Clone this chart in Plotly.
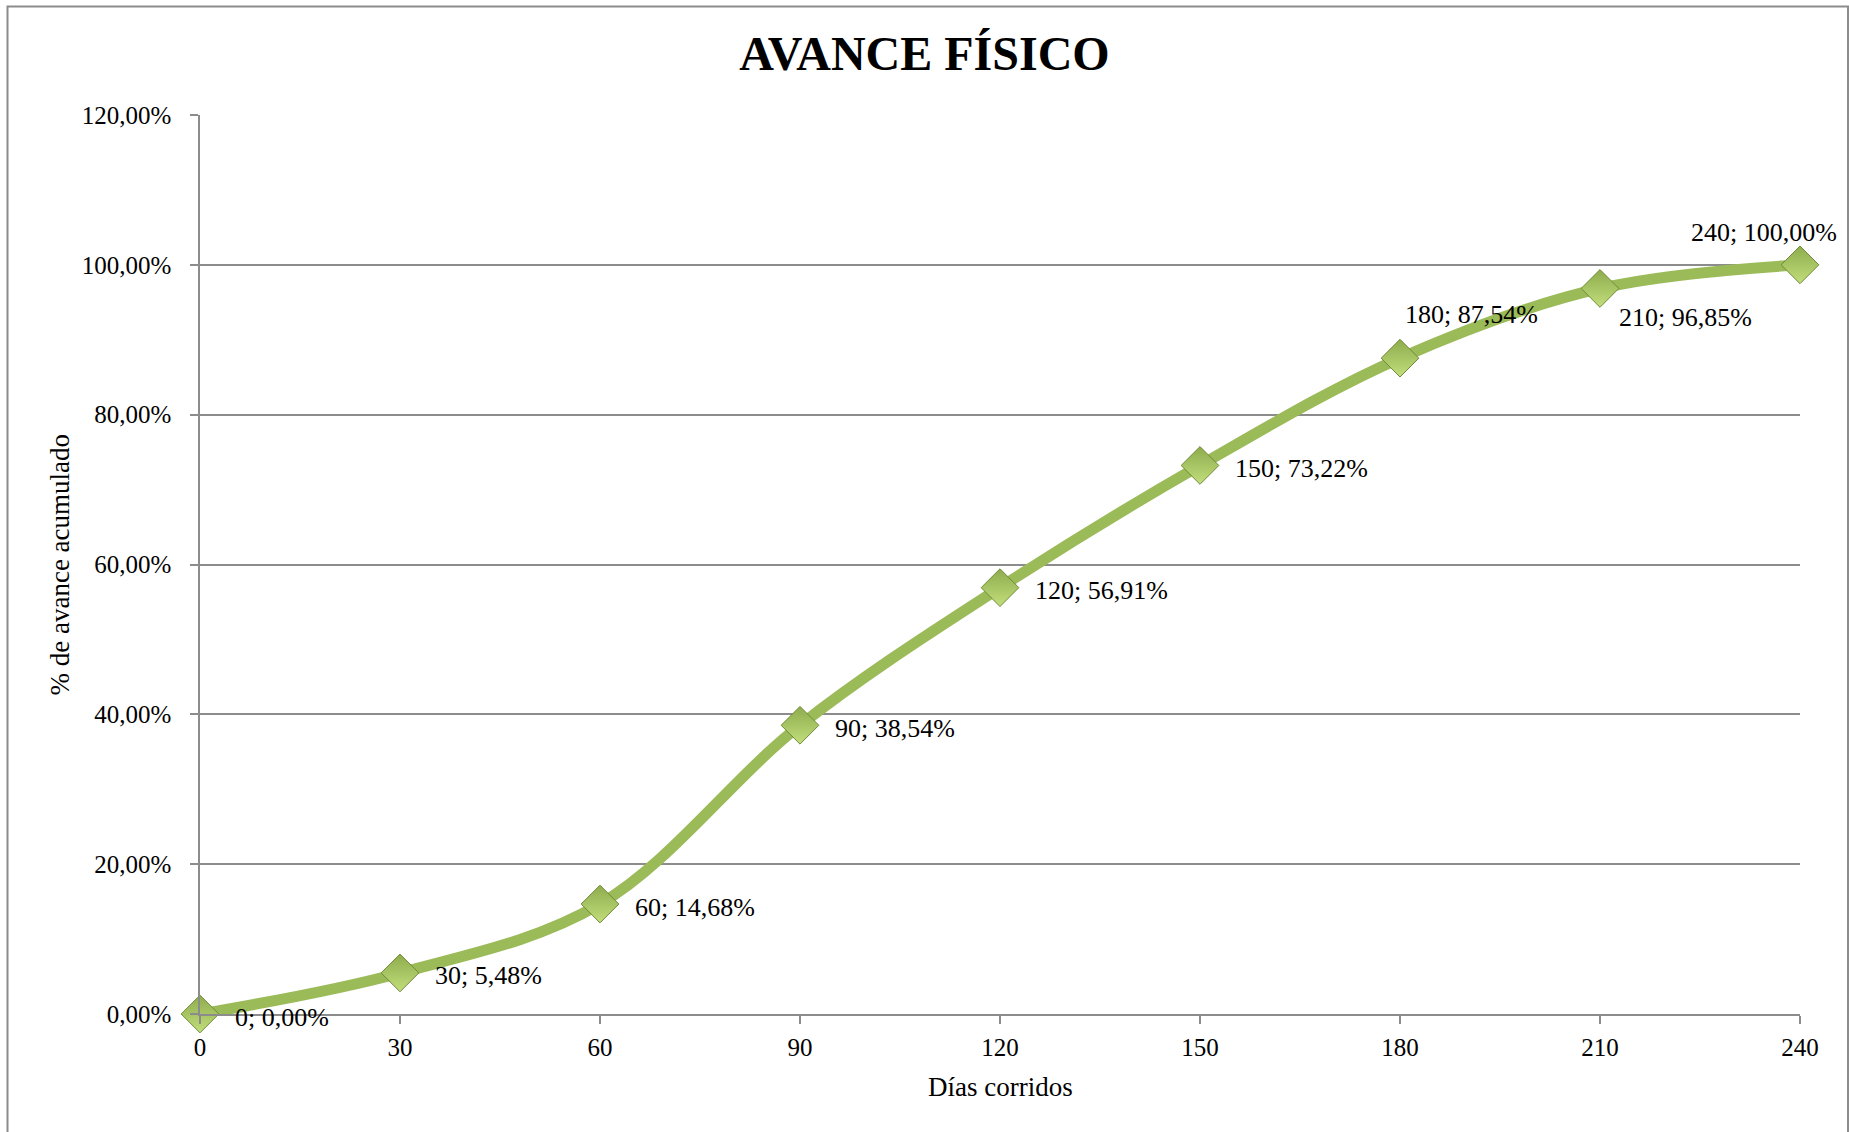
import plotly.graph_objects as go

# Cumulative physical progress by elapsed days
dias = [0, 30, 60, 90, 120, 150, 180, 210, 240]
avance = [0.00, 5.48, 14.68, 38.54, 56.91, 73.22, 87.54, 96.85, 100.00]

y_ticks = [0, 20, 40, 60, 80, 100, 120]
x_ticks = [0, 30, 60, 90, 120, 150, 180, 210, 240]

FONT = "Liberation Serif, Times New Roman, serif"
GREEN = "#9BBB59"
GRID = "#8C8C8C"


def pct(v):
    return f"{v:,.2f}".replace(",", "X").replace(".", ",").replace("X", ".") + "%"


fig = go.Figure()

fig.add_trace(go.Scatter(
    x=dias,
    y=avance,
    mode="lines+markers",
    line=dict(color=GREEN, width=11, shape="spline", smoothing=1.0),
    marker=dict(
        symbol="diamond",
        size=29,
        color="#8EAC4D",
        gradient=dict(type="vertical", color="#C2DE7C"),
        line=dict(color="#6F8A38", width=1),
    ),
    cliponaxis=False,
    hoverinfo="x+y",
    showlegend=False,
))

# Data label placement around each point: (xanchor, xshift, yshift)
default_place = ("left", 33, -3)
special_place = {
    180: ("left", 3, 44),
    210: ("left", 17, -29),
    240: ("right", 39, 32),
}

annotations = []
for d, v in zip(dias, avance):
    xa, xs, ys = special_place.get(d, default_place)
    annotations.append(dict(
        x=d, y=v, xref="x", yref="y",
        text=f"{d}; {pct(v)}",
        showarrow=False,
        xanchor=xa, yanchor="middle",
        xshift=xs, yshift=ys,
        font=dict(family=FONT, size=26, color="#000000"),
    ))

# Axis titles
annotations.append(dict(
    x=0.5, y=-0.081, xref="paper", yref="paper",
    text="Días corridos", showarrow=False,
    xanchor="center", yanchor="middle",
    font=dict(family=FONT, size=27, color="#000000"),
))
annotations.append(dict(
    x=-0.0881, y=0.5, xref="paper", yref="paper",
    text="% de avance acumulado", showarrow=False,
    textangle=-90, xanchor="center", yanchor="middle",
    font=dict(family=FONT, size=27, color="#000000"),
))

fig.update_layout(
    width=1849,
    height=1132,
    margin=dict(l=200, r=49, t=115, b=118),
    paper_bgcolor="white",
    plot_bgcolor="white",
    title=dict(
        text="<b>AVANCE FÍSICO</b>",
        x=0.5, xref="container", xanchor="center",
        y=1 - 53 / 1132, yref="container", yanchor="middle",
        font=dict(family=FONT, size=48, color="#000000"),
    ),
    annotations=annotations,
    shapes=[dict(
        type="rect", xref="paper", yref="paper",
        x0=(7.5 - 200) / 1600, x1=(1848 - 200) / 1600,
        y0=(1014 - 1140) / 899, y1=(1014 - 6.5) / 899,
        line=dict(color="#8C8C8C", width=2),
        fillcolor="rgba(0,0,0,0)",
        layer="below",
    )],
)

fig.update_xaxes(
    range=[0, 240],
    tickvals=x_ticks,
    ticktext=[str(t) for t in x_ticks],
    ticks="outside", ticklen=8, tickwidth=1.5, tickcolor=GRID,
    showline=True, linecolor=GRID, linewidth=1.5,
    showgrid=False, zeroline=False,
    tickfont=dict(family=FONT, size=25, color="#000000"),
    ticklabelstandoff=2,
)

fig.update_yaxes(
    range=[0, 120],
    tickvals=y_ticks,
    ticktext=[pct(t) for t in y_ticks],
    ticks="outside", ticklen=8, tickwidth=1.5, tickcolor=GRID,
    showline=True, linecolor=GRID, linewidth=1.5,
    showgrid=True, gridcolor=GRID, gridwidth=1.5,
    zeroline=False,
    tickfont=dict(family=FONT, size=25, color="#000000"),
    ticklabelstandoff=14,
)

fig.write_html("out.html")
